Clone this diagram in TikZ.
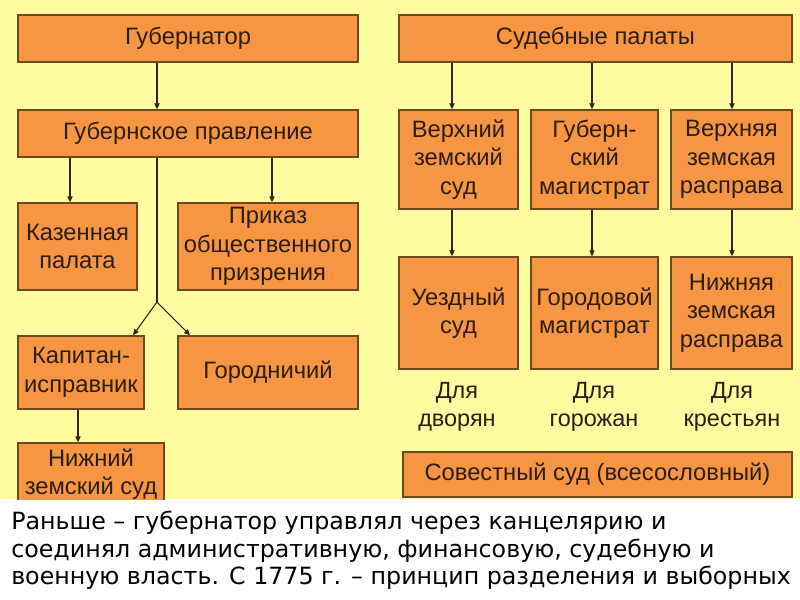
\documentclass[tikz,border=0pt]{standalone}
\usepackage{fontspec}
\setmainfont{Liberation Sans}
\newfontfamily\notefont{DejaVu Sans}
\usetikzlibrary{arrows.meta}
\definecolor{bgyellow}{RGB}{255,251,160}
\definecolor{boxfill}{RGB}{247,150,66}
\definecolor{boxline}{RGB}{110,72,30}
\definecolor{boxtext}{RGB}{45,30,15}
\definecolor{linec}{RGB}{45,40,20}
\tikzset{
  box/.style={draw=boxline, fill=boxfill, line width=1.1pt, inner sep=0pt,
    text=boxtext, align=center, font=\fontsize{17.8}{21.5}\selectfont},
  arr/.style={draw=linec, line width=0.8pt, -{Triangle[length=4.5pt,width=4pt]}},
  ln/.style={draw=linec, line width=0.8pt},
  lbl/.style={text=boxtext, align=center, font=\fontsize{17.6}{21.2}\selectfont}
}
\begin{document}
\begin{tikzpicture}[x=0.75pt,y=-0.75pt]
\useasboundingbox (0,0) rectangle (800,600);
\fill[bgyellow] (0,0) rectangle (800,499);
% left column
\node[box, minimum width=255pt, minimum height=35.25pt] (gub) at (188,38.5) {Губернатор};
\node[box, minimum width=255pt, minimum height=35.25pt] (gpr) at (188,133.5) {Губернское правление};
\node[box, minimum width=89.25pt, minimum height=65.25pt] (kaz) at (77.5,246.5) {Казенная\\палата};
\node[box, minimum width=135pt, minimum height=65.25pt] (prik) at (268,246.5) {Приказ\\общественного\\призрения};
\node[box, minimum width=94.5pt, minimum height=54.75pt] (kap) at (81,372.5) {Капитан-\\исправник};
\node[box, minimum width=135pt, minimum height=54.75pt] (gor) at (268,372.5) {Городничий};
\node[box, minimum width=109.5pt, minimum height=46.5pt] (nzs) at (91,474) {Нижний\\земский суд};
% right column
\node[box, minimum width=294.75pt, minimum height=35.25pt] (sud) at (595.5,38.5) {Судебные палаты};
\node[box, minimum width=89.25pt, minimum height=74.25pt] (verh) at (458.5,159.5) {Верхний\\земский\\суд};
\node[box, minimum width=95.25pt, minimum height=74.25pt] (gubm) at (594.5,159.5) {Губерн-\\ский\\магистрат};
\node[box, minimum width=90.75pt, minimum height=74.25pt] (verhr) at (731.5,159.5) {Верхняя\\земская\\расправа};
\node[box, minimum width=89.25pt, minimum height=84pt] (uezd) at (458.5,313) {Уездный\\суд};
\node[box, minimum width=95.25pt, minimum height=84pt] (gorm) at (594.5,313) {Городовой\\магистрат};
\node[box, minimum width=90.75pt, minimum height=84pt] (nizhr) at (731.5,313) {Нижняя\\земская\\расправа};
\node[box, minimum width=291.75pt, minimum height=33.75pt] (sov) at (597.5,474.5) {Совестный суд (всесословный)};
\node[lbl] (d1) at (457,407) {Для\\дворян};
\node[lbl] (d2) at (594,407) {Для\\горожан};
\node[lbl] (d3) at (732,407) {Для\\крестьян};
% connector columns
\coordinate (cA) at (157,0);
\coordinate (cB) at (70,0);
\coordinate (cC) at (272,0);
\coordinate (cD) at (78,0);
\coordinate (j) at (157,302);
\coordinate (kL) at (133,0);
\coordinate (kR) at (190,0);
\coordinate (r1) at (452,0);
\coordinate (r2) at (592,0);
\coordinate (r3) at (732,0);
\draw[arr] (gub.south -| cA) -- (gpr.north -| cA);
\draw[arr] (gpr.south -| cB) -- (kaz.north -| cB);
\draw[arr] (gpr.south -| cC) -- (prik.north -| cC);
\draw[ln] (gpr.south -| cA) -- (j);
\draw[arr] (j) -- (kap.north -| kL);
\draw[arr] (j) -- (gor.north -| kR);
\draw[arr] (kap.south -| cD) -- (nzs.north -| cD);
\draw[arr] (sud.south -| r1) -- (verh.north -| r1);
\draw[arr] (sud.south -| r2) -- (gubm.north -| r2);
\draw[arr] (sud.south -| r3) -- (verhr.north -| r3);
\draw[arr] (verh.south -| r1) -- (uezd.north -| r1);
\draw[arr] (gubm.south -| r2) -- (gorm.north -| r2);
\draw[arr] (verhr.south -| r3) -- (nizhr.north -| r3);
% bottom white band and note
\fill[white] (0,499.5) rectangle (800,600);
\node[anchor=north west, inner sep=0pt, align=left, text=black,
  font=\notefont\fontsize{17.8}{20.6}\selectfont] (note) at (11,511)
  {Раньше – губернатор управлял через канцелярию и\\
   соединял административную, финансовую, судебную и\\
   военную власть. С 1775 г. – принцип разделения и выборных};
\end{tikzpicture}
\end{document}
